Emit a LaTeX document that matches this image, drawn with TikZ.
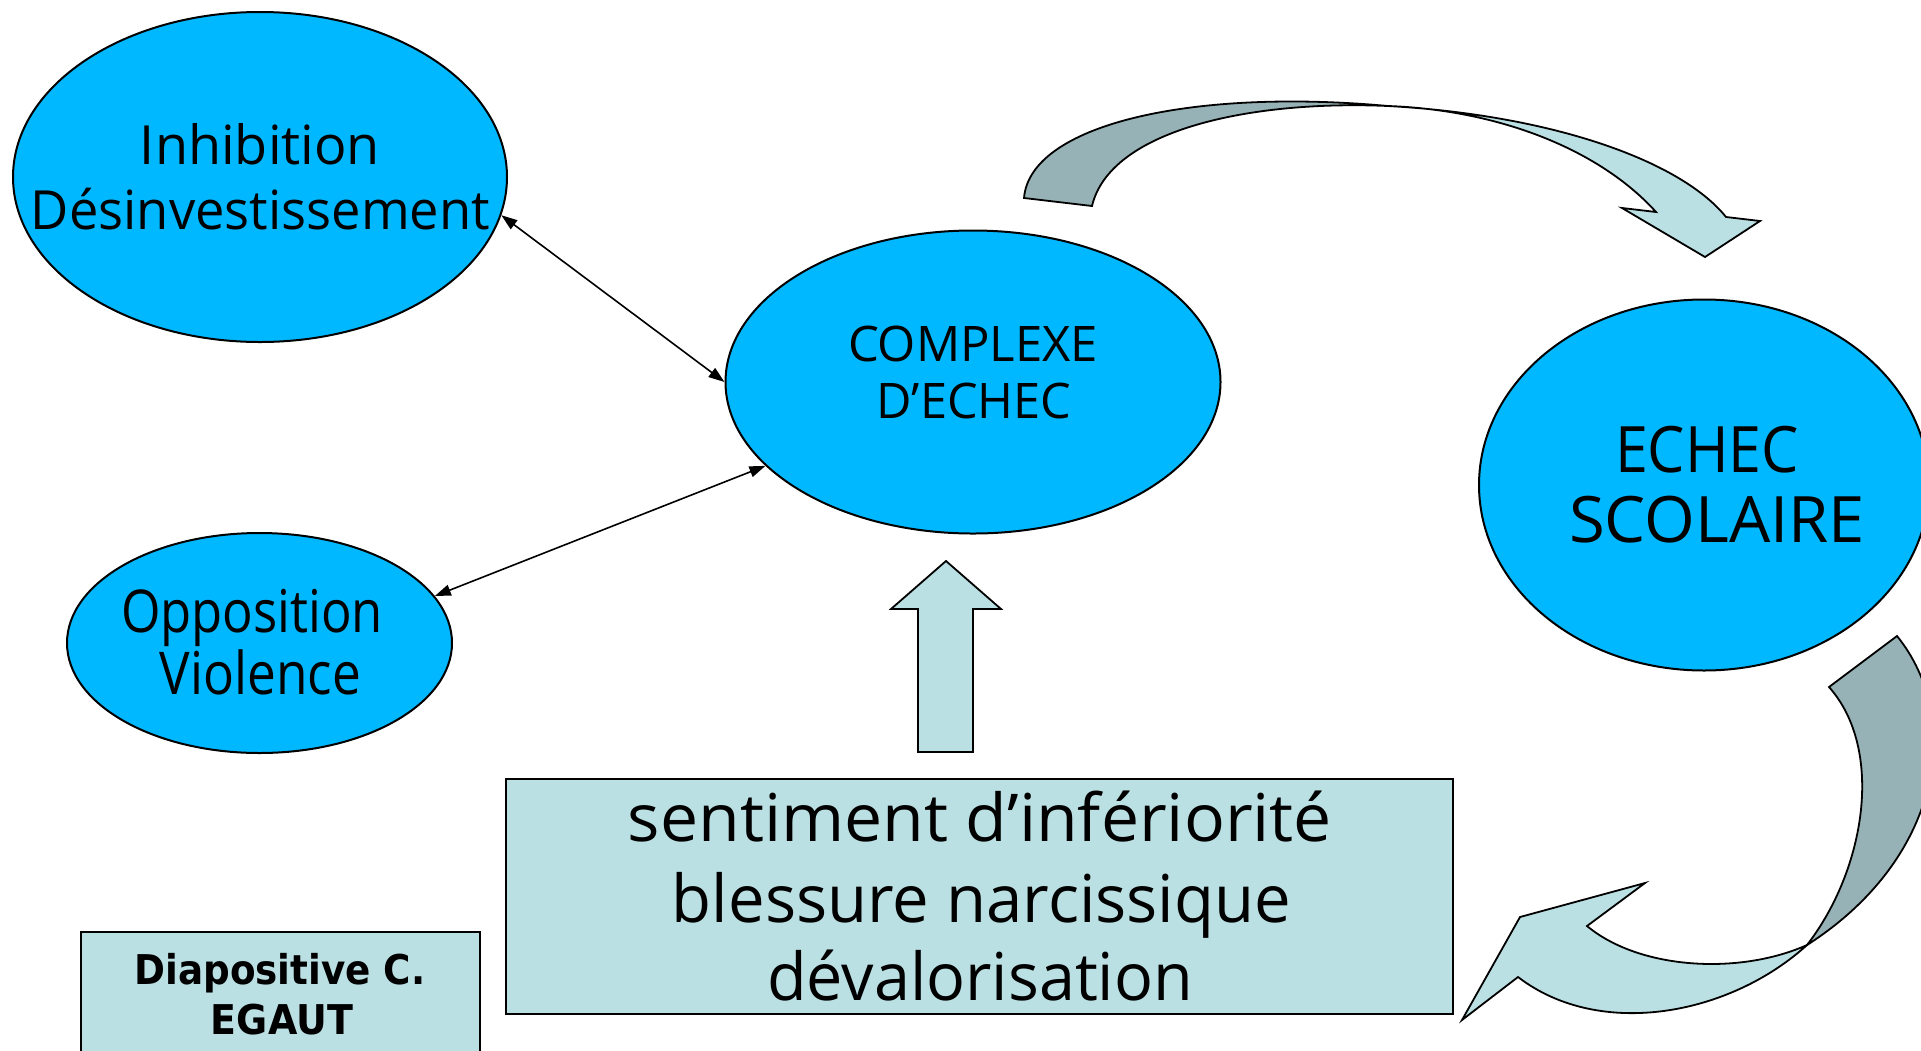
\documentclass[tikz,border=0pt]{standalone}
\usepackage{fontspec}
\setmainfont{Open Sans}
\newfontfamily\dvb{DejaVu Sans}
\usetikzlibrary{arrows.meta,shapes.geometric}
\definecolor{cyanfill}{RGB}{0,184,255}
\definecolor{lightbl}{RGB}{187,224,227}
\definecolor{darkbl}{RGB}{150,178,182}
\newcommand\fw[2]{\resizebox{#1}{\height}{#2}}
\begin{document}
\begin{tikzpicture}[x=1pt,y=-1pt,
  bub/.style={ellipse, draw=black, line width=2pt, fill=cyanfill, inner sep=0pt},
  lbl/.style={anchor=base, inner sep=0pt, text=black},
  boxst/.style={draw=black, line width=2pt, fill=lightbl, inner sep=0pt},
  shp/.style={draw=black, line width=1.8pt, line join=miter},
  link/.style={line width=1.6pt, {Triangle[length=16pt,width=11pt]}-{Triangle[length=16pt,width=11pt]}}]
\useasboundingbox (0,0) rectangle (1921,1050);
\clip (0,0) rectangle (1921,1050);
\fill[white] (0,0) rectangle (1921,1050);

% ellipses
\node (inh) [bub, minimum width=494pt, minimum height=330pt] at (260,177) {};
\node (cpx) [bub, minimum width=495pt, minimum height=303pt] at (973,382) {};
\node (ech) [bub, minimum width=450pt, minimum height=371pt] at (1704,485) {};
\node (opp) [bub, minimum width=385pt, minimum height=220pt] at (259.5,643) {};

% texts in ellipses
\node (inh1) [lbl, font=\fontsize{54}{60}\selectfont] at (260,164) {\fw{240pt}{Inhibition}};
\node (inh2) [lbl, font=\fontsize{54}{60}\selectfont] at (260.5,229) {\fw{459pt}{Désinvestissement}};
\node (cpx1) [lbl, font=\fontsize{49}{55}\selectfont] at (973,361) {\fw{250pt}{COMPLEXE}};
\node (cpx2) [lbl, font=\fontsize{49}{55}\selectfont] at (974,418) {\fw{195pt}{D’ECHEC}};
\node (ech1) [lbl, font=\fontsize{64}{70}\selectfont] at (1707,472) {\fw{184pt}{ECHEC}};
\node (ech2) [lbl, font=\fontsize{64}{70}\selectfont] at (1717,542) {\fw{296pt}{SCOLAIRE}};
\node (opp1) [lbl, font=\fontsize{59}{65}\selectfont] at (252,632) {\fw{262pt}{Opposition}};
\node (opp2) [lbl, font=\fontsize{59}{65}\selectfont] at (260.5,694) {\fw{201pt}{Violence}};

% links
\draw[link] (inh.-9) -- (cpx.180);
\draw[link] (opp.15) -- (cpx.202);

% upward block arrow
\coordinate (ua1) at (918,752);
\coordinate (ua2) at (918,609);
\coordinate (ua3) at (891,609);
\coordinate (ua4) at (946,561);
\coordinate (ua5) at (1001,609);
\coordinate (ua6) at (973,609);
\coordinate (ua7) at (973,752);
\draw[shp, fill=lightbl] (ua1) -- (ua2) -- (ua3) -- (ua4) -- (ua5) -- (ua6) -- (ua7) -- cycle;

% big box
\node (feel) [boxst, minimum width=947pt, minimum height=235pt] at (979.5,896.5) {};
\node (feel1) [lbl, font=\fontsize{66}{72}\selectfont] at (980,841) {\fw{704pt}{sentiment d’infériorité}};
\node (feel2) [lbl, font=\fontsize{66}{72}\selectfont] at (981.5,922) {\fw{619pt}{blessure narcissique}};
\node (feel3) [lbl, font=\fontsize{66}{72}\selectfont] at (980,1000) {\fw{426pt}{dévalorisation}};

% credit box
\node (cred) [boxst, minimum width=399pt, minimum height=130pt] at (280.5,997) {};
\node (cred1) [lbl, font=\dvb\bfseries\fontsize{41}{46}\selectfont] at (280,984) {\fw{291pt}{Diapositive C.}};
\node (cred2) [lbl, font=\dvb\bfseries\fontsize{41}{46}\selectfont] at (282,1034) {\fw{142pt}{EGAUT}};

% top curved arrow
\coordinate (t1) at (1024,198);
\coordinate (t2) at (1092,206);
\coordinate (tc) at (1388,106);
\coordinate (h1) at (1726,217);
\coordinate (h2) at (1760,221);
\coordinate (h3) at (1705,257);
\coordinate (h4) at (1622,208);
\coordinate (h5) at (1656,212);
\draw[shp, fill=darkbl] (t1) .. controls (1030,125) and (1190,88) .. (tc)
  .. controls (1250,100) and (1110,130) .. (t2) -- cycle;
\draw[shp, fill=lightbl] (tc) .. controls (1550,115) and (1680,160) .. (h1)
  -- (h2) -- (h3) -- (h4) -- (h5) .. controls (1600,150) and (1500,110) .. (tc) -- cycle;

% bottom-right curved arrow
\coordinate (b1) at (1897,636);
\coordinate (b2) at (1829,687);
\coordinate (bx) at (1807,945);
\coordinate (l1) at (1518,977);
\coordinate (l2) at (1462,1020);
\coordinate (l3) at (1520,917);
\coordinate (l4) at (1645,883);
\coordinate (l5) at (1587,926);
\draw[shp, fill=darkbl] (b1) .. controls (1965,720) and (1940,860) .. (bx)
  .. controls (1865,870) and (1885,750) .. (b2) -- cycle;
\draw[shp, fill=lightbl] (bx) .. controls (1730,1015) and (1600,1040) .. (l1)
  -- (l2) -- (l3) -- (l4) -- (l5) .. controls (1640,970) and (1740,975) .. (bx) -- cycle;
\end{tikzpicture}
\end{document}
